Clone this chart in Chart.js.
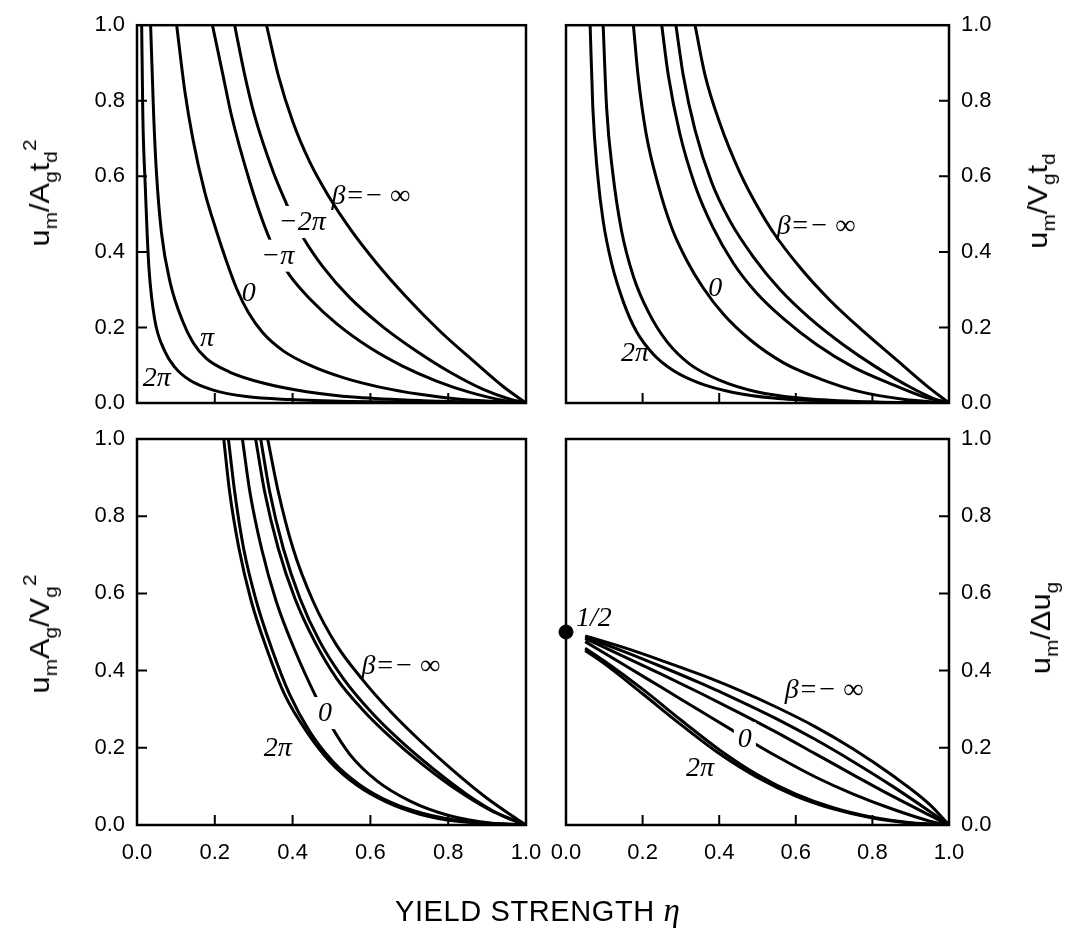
<!DOCTYPE html>
<html>
<head>
<meta charset="utf-8">
<script src="https://cdn.jsdelivr.net/npm/chart.js@4.4.0/dist/chart.umd.min.js"></script>
<style>
html,body{margin:0;padding:0;background:#fff;}
#wrap{position:relative;width:1070px;height:932px;overflow:hidden;font-family:"Liberation Sans",Arial,sans-serif;color:#000;}
canvas{position:absolute;left:0;top:0;}
.yt{position:absolute;transform:translate(-50%,-50%) rotate(-90deg) scaleX(1.1);font-size:28px;line-height:1;white-space:nowrap;}
.yt .sb{font-size:19px;position:relative;top:8px;}
.yt .sp{font-size:19px;position:relative;top:-13px;}
#xt{position:absolute;left:395px;top:894px;font-size:29px;line-height:1;white-space:nowrap;letter-spacing:0.6px;}
#xt i{font-family:"Liberation Serif",serif;font-size:33px;}
</style>
</head>
<body>
<div id="wrap">
<canvas id="cA" width="1070" height="932"></canvas>
<canvas id="cB" width="1070" height="932"></canvas>
<canvas id="cC" width="1070" height="932"></canvas>
<canvas id="cD" width="1070" height="932"></canvas>
<div class="yt" style="left:40px;top:193px;">u<span class="sb">m</span>/A<span class="sb">g</span>t<span class="sb">d</span><span class="sp">2</span></div>
<div class="yt" style="left:40px;top:634px;">u<span class="sb">m</span>A<span class="sb">g</span>/V<span class="sb">g</span><span class="sp">2</span></div>
<div class="yt" style="left:1038px;top:201px;">u<span class="sb">m</span>/V<span class="sb">g</span>t<span class="sb">d</span></div>
<div class="yt" style="left:1041px;top:628px;">u<span class="sb">m</span>/Δu<span class="sb">g</span></div>
<div id="xt">YIELD STRENGTH <i>η</i></div>
</div>
<script>
// ---- tick labels ----
const TICK_VALUES = [0, 0.2, 0.4, 0.6, 0.8, 1.0];
const TICK_LABELS = ['0.0', '0.2', '0.4', '0.6', '0.8', '1.0'];
const INNER_TICKS = [0.2, 0.4, 0.6, 0.8];

// ---- Panel A (top-left): u_m / A_g t_d^2 vs eta ; beta = 2pi, pi, 0, -pi, -2pi, -inf ----
const A_2PI  = [[0.012,1.0],[0.015,0.76],[0.021,0.58],[0.026,0.45],[0.031,0.353],[0.045,0.224],[0.071,0.138],[0.097,0.095],[0.136,0.06],[0.196,0.034],[0.281,0.017],[0.393,0.009],[0.55,0.004],[0.75,0.0015],[1,0]];
const A_PI   = [[0.035,1.0],[0.043,0.757],[0.05,0.61],[0.063,0.45],[0.085,0.32],[0.118,0.215],[0.144,0.16],[0.178,0.118],[0.238,0.082],[0.324,0.053],[0.436,0.03],[0.564,0.015],[0.736,0.006],[1,0]];
const A_0    = [[0.102,1.0],[0.123,0.825],[0.144,0.697],[0.174,0.559],[0.204,0.456],[0.23,0.375],[0.256,0.303],[0.286,0.24],[0.324,0.185],[0.376,0.138],[0.444,0.1],[0.53,0.067],[0.624,0.042],[0.727,0.023],[0.83,0.01],[1,0]];
const A_MPI  = [[0.194,1.0],[0.221,0.868],[0.242,0.765],[0.29,0.585],[0.328,0.468],[0.358,0.396],[0.393,0.337],[0.444,0.276],[0.513,0.21],[0.599,0.146],[0.684,0.097],[0.77,0.058],[0.856,0.028],[0.942,0.007],[1,0]];
const A_M2PI = [[0.251,1.0],[0.277,0.868],[0.302,0.762],[0.35,0.612],[0.384,0.528],[0.406,0.48],[0.427,0.438],[0.479,0.359],[0.547,0.279],[0.633,0.201],[0.719,0.137],[0.804,0.082],[0.89,0.036],[0.959,0.01],[1,0]];
const A_MINF = [[0.333,1.0],[0.363,0.868],[0.401,0.743],[0.444,0.638],[0.491,0.55],[0.547,0.462],[0.616,0.37],[0.693,0.28],[0.779,0.19],[0.864,0.112],[0.942,0.043],[1,0]];

// ---- Panel B (top-right): u_m / V_g t_d ----
const B_2PI  = [[0.063,1.0],[0.07,0.782],[0.082,0.61],[0.097,0.482],[0.119,0.37],[0.15,0.267],[0.184,0.189],[0.228,0.129],[0.28,0.086],[0.35,0.052],[0.437,0.028],[0.541,0.013],[0.671,0.005],[0.85,0.001],[1,0]];
const B_PI   = [[0.097,1.0],[0.106,0.782],[0.122,0.61],[0.145,0.456],[0.176,0.335],[0.215,0.241],[0.263,0.163],[0.323,0.103],[0.402,0.06],[0.497,0.03],[0.61,0.013],[0.758,0.004],[1,0]];
const B_0    = [[0.176,1.0],[0.188,0.868],[0.209,0.714],[0.241,0.576],[0.276,0.464],[0.315,0.378],[0.358,0.305],[0.41,0.236],[0.48,0.168],[0.567,0.107],[0.663,0.064],[0.767,0.03],[0.88,0.01],[1,0]];
const B_MPI  = [[0.25,1.0],[0.267,0.868],[0.297,0.714],[0.337,0.576],[0.384,0.464],[0.437,0.37],[0.497,0.292],[0.567,0.224],[0.654,0.155],[0.75,0.095],[0.845,0.052],[0.932,0.017],[1,0]];
const B_M2PI = [[0.287,1.0],[0.306,0.868],[0.337,0.722],[0.38,0.585],[0.428,0.482],[0.489,0.387],[0.558,0.301],[0.637,0.224],[0.723,0.155],[0.81,0.095],[0.897,0.043],[0.967,0.009],[1,0]];
const B_MINF = [[0.337,1.0],[0.363,0.868],[0.402,0.74],[0.454,0.61],[0.5,0.52],[0.541,0.452],[0.61,0.36],[0.689,0.272],[0.776,0.19],[0.863,0.114],[0.941,0.046],[1,0]];

// ---- Panel C (bottom-left): u_m A_g / V_g^2 ----
const C_2PI  = [[0.223,1.0],[0.238,0.864],[0.262,0.717],[0.294,0.579],[0.333,0.458],[0.38,0.337],[0.436,0.242],[0.496,0.164],[0.564,0.104],[0.642,0.059],[0.727,0.028],[0.83,0.009],[1,0]];
const C_PI   = [[0.235,1.0],[0.251,0.864],[0.274,0.717],[0.307,0.579],[0.346,0.458],[0.393,0.337],[0.444,0.242],[0.504,0.164],[0.573,0.104],[0.65,0.06],[0.736,0.03],[0.839,0.01],[1,0]];
const C_0    = [[0.271,1.0],[0.29,0.864],[0.32,0.717],[0.358,0.579],[0.406,0.452],[0.461,0.33],[0.496,0.262],[0.547,0.183],[0.616,0.115],[0.702,0.062],[0.804,0.024],[0.907,0.005],[1,0]];
const C_MPI  = [[0.305,1.0],[0.328,0.864],[0.363,0.717],[0.406,0.587],[0.457,0.475],[0.513,0.38],[0.577,0.302],[0.65,0.229],[0.736,0.155],[0.822,0.091],[0.907,0.039],[0.967,0.013],[1,0]];
const C_M2PI = [[0.318,1.0],[0.341,0.864],[0.376,0.717],[0.419,0.587],[0.47,0.475],[0.53,0.38],[0.599,0.296],[0.676,0.219],[0.762,0.145],[0.847,0.08],[0.933,0.027],[1,0]];
const C_MINF = [[0.336,1.0],[0.363,0.864],[0.401,0.717],[0.453,0.579],[0.513,0.466],[0.577,0.38],[0.65,0.296],[0.727,0.219],[0.813,0.141],[0.899,0.07],[0.967,0.022],[1,0]];

// ---- Panel D (bottom-right): u_m / Delta u_g ----
const D_MINF = [[0.05,0.49],[0.15,0.46],[0.25,0.426],[0.35,0.39],[0.45,0.35],[0.55,0.305],[0.65,0.255],[0.75,0.197],[0.85,0.13],[0.95,0.053],[1,0]];
const D_M2PI = [[0.05,0.487],[0.15,0.45],[0.25,0.41],[0.35,0.368],[0.45,0.323],[0.55,0.275],[0.65,0.222],[0.75,0.164],[0.85,0.102],[0.95,0.035],[1,0]];
const D_MPI  = [[0.05,0.483],[0.15,0.437],[0.25,0.39],[0.35,0.342],[0.45,0.292],[0.55,0.24],[0.65,0.185],[0.75,0.13],[0.85,0.076],[0.95,0.025],[1,0]];
const D_0    = [[0.05,0.475],[0.15,0.416],[0.25,0.356],[0.35,0.296],[0.45,0.236],[0.55,0.178],[0.65,0.125],[0.75,0.08],[0.85,0.042],[0.95,0.01],[1,0]];
const D_PI   = [[0.05,0.458],[0.1,0.425],[0.2,0.352],[0.3,0.272],[0.4,0.195],[0.5,0.13],[0.6,0.08],[0.7,0.044],[0.8,0.02],[0.9,0.006],[1,0]];
const D_2PI  = [[0.05,0.452],[0.1,0.418],[0.2,0.34],[0.3,0.26],[0.4,0.185],[0.5,0.123],[0.6,0.075],[0.7,0.041],[0.8,0.018],[0.9,0.005],[1,0]];
const D_POINT = [[0, 0.5]];

// ---- curve labels ----
const A_LABELS = [
  {t:'β=− ∞', x:0.50, y:0.55, left:true},
  {t:'−2π', x:0.425, y:0.479, gap:true},
  {t:'−π', x:0.362, y:0.39, gap:true},
  {t:'0', x:0.287, y:0.292},
  {t:'π', x:0.18, y:0.173},
  {t:'2π', x:0.051, y:0.067}
];
const B_LABELS = [
  {t:'β=− ∞', x:0.55, y:0.47, left:true},
  {t:'0', x:0.39, y:0.305},
  {t:'2π', x:0.18, y:0.132}
];
const C_LABELS = [
  {t:'β=− ∞', x:0.577, y:0.414, left:true},
  {t:'0', x:0.483, y:0.29, gap:true},
  {t:'2π', x:0.362, y:0.2}
];
const D_LABELS = [
  {t:'1/2', x:0.073, y:0.536},
  {t:'β=− ∞', x:0.571, y:0.35, left:true},
  {t:'0', x:0.467, y:0.225, gap:true},
  {t:'2π', x:0.35, y:0.148}
];

const TICK_FONT = {family:'"Liberation Sans", Arial, sans-serif', size:22};
const LABEL_FONT = 'italic 28px "Liberation Serif", "DejaVu Serif", serif';

const deco = {
  id: 'deco',
  afterDatasetsDraw(chart, args, opts) {
    const ctx = chart.ctx, xs = chart.scales.x, ys = chart.scales.y;
    ctx.save();
    ctx.font = LABEL_FONT;
    ctx.textBaseline = 'middle';
    ctx.textAlign = 'left';
    for (const L of opts.labels) {
      const px = xs.getPixelForValue(L.x), py = ys.getPixelForValue(L.y);
      const w = ctx.measureText(L.t).width;
      const lx = L.left ? px : px - w / 2;
      if (L.gap) {
        ctx.fillStyle = '#fff';
        ctx.fillRect(lx - 4, py - 16, w + 8, 32);
      }
      ctx.fillStyle = '#000';
      ctx.fillText(L.t, lx, py + 1);
    }
    ctx.restore();
  },
  afterDraw(chart, args, opts) {
    const ctx = chart.ctx, a = chart.chartArea, xs = chart.scales.x, ys = chart.scales.y;
    ctx.save();
    ctx.strokeStyle = '#000';
    ctx.lineWidth = 2;
    ctx.beginPath();
    for (const v of INNER_TICKS) {
      const px = xs.getPixelForValue(v);
      ctx.moveTo(px, a.bottom);
      ctx.lineTo(px, a.bottom - 10);
      const py = ys.getPixelForValue(v);
      if (opts.yRight) { ctx.moveTo(a.right, py); ctx.lineTo(a.right - 10, py); }
      else { ctx.moveTo(a.left, py); ctx.lineTo(a.left + 10, py); }
    }
    ctx.stroke();
    ctx.lineWidth = 2.5;
    ctx.strokeRect(a.left, a.top, a.right - a.left, a.bottom - a.top);
    ctx.restore();
  }
};

function series(arr) {
  return {
    data: arr.map(p => ({x: p[0], y: p[1]})),
    showLine: true, fill: false,
    borderColor: '#000', borderWidth: 3,
    pointRadius: 0, pointHoverRadius: 0,
    cubicInterpolationMode: 'monotone'
  };
}

function panel(id, cfg) {
  const tickCb = v => TICK_LABELS[TICK_VALUES.indexOf(v)];
  const setTicks = s => { s.ticks = TICK_VALUES.map(v => ({value: v})); };
  const datasets = cfg.curves.map(series).concat(cfg.extra || []);
  return new Chart(document.getElementById(id), {
    type: 'scatter',
    data: {datasets},
    options: {
      responsive: false, animation: false, devicePixelRatio: 1, events: [],
      layout: {padding: cfg.pad},
      plugins: {legend: {display: false}, tooltip: {enabled: false},
                deco: {labels: cfg.labels, yRight: cfg.yRight}},
      scales: {
        x: {
          type: 'linear', position: 'bottom', min: 0, max: 1,
          afterBuildTicks: setTicks,
          ticks: {display: cfg.xLabels, padding: 15, font: TICK_FONT, color: '#000',
                  maxRotation: 0, autoSkip: false, callback: tickCb},
          grid: {display: false, drawTicks: false}, border: {display: false},
          afterFit: s => { s.height = cfg.xh; }
        },
        y: {
          type: 'linear', position: cfg.yRight ? 'right' : 'left', min: 0, max: 1,
          afterBuildTicks: setTicks,
          ticks: {padding: 12, font: TICK_FONT, color: '#000', autoSkip: false, callback: tickCb},
          grid: {display: false, drawTicks: false}, border: {display: false},
          afterFit: s => { s.width = cfg.yw; }
        }
      }
    },
    plugins: [deco]
  });
}

// chart areas: left panels x 137..526, right panels x 566..949; top row y 16..403, bottom row y 439..825
panel('cA', {curves: [A_2PI, A_PI, A_0, A_MPI, A_M2PI, A_MINF], labels: A_LABELS,
  yRight: false, xLabels: false, yw: 137, xh: 30,
  pad: {left: 0, right: 1070 - 526, top: 16, bottom: 932 - 403 - 30}});
panel('cB', {curves: [B_2PI, B_PI, B_0, B_MPI, B_M2PI, B_MINF], labels: B_LABELS,
  yRight: true, xLabels: false, yw: 121, xh: 30,
  pad: {left: 566, right: 0, top: 16, bottom: 932 - 403 - 30}});
panel('cC', {curves: [C_2PI, C_PI, C_0, C_MPI, C_M2PI, C_MINF], labels: C_LABELS,
  yRight: false, xLabels: true, yw: 137, xh: 60,
  pad: {left: 0, right: 1070 - 526, top: 439, bottom: 932 - 825 - 60}});
panel('cD', {curves: [D_2PI, D_PI, D_0, D_MPI, D_M2PI, D_MINF], labels: D_LABELS,
  yRight: true, xLabels: true, yw: 121, xh: 60,
  pad: {left: 566, right: 0, top: 439, bottom: 932 - 825 - 60},
  extra: [{data: D_POINT.map(p => ({x: p[0], y: p[1]})), showLine: false,
           pointRadius: 7, pointHoverRadius: 7, pointBackgroundColor: '#000',
           pointBorderColor: '#000', clip: false}]});
</script>
</body>
</html>
